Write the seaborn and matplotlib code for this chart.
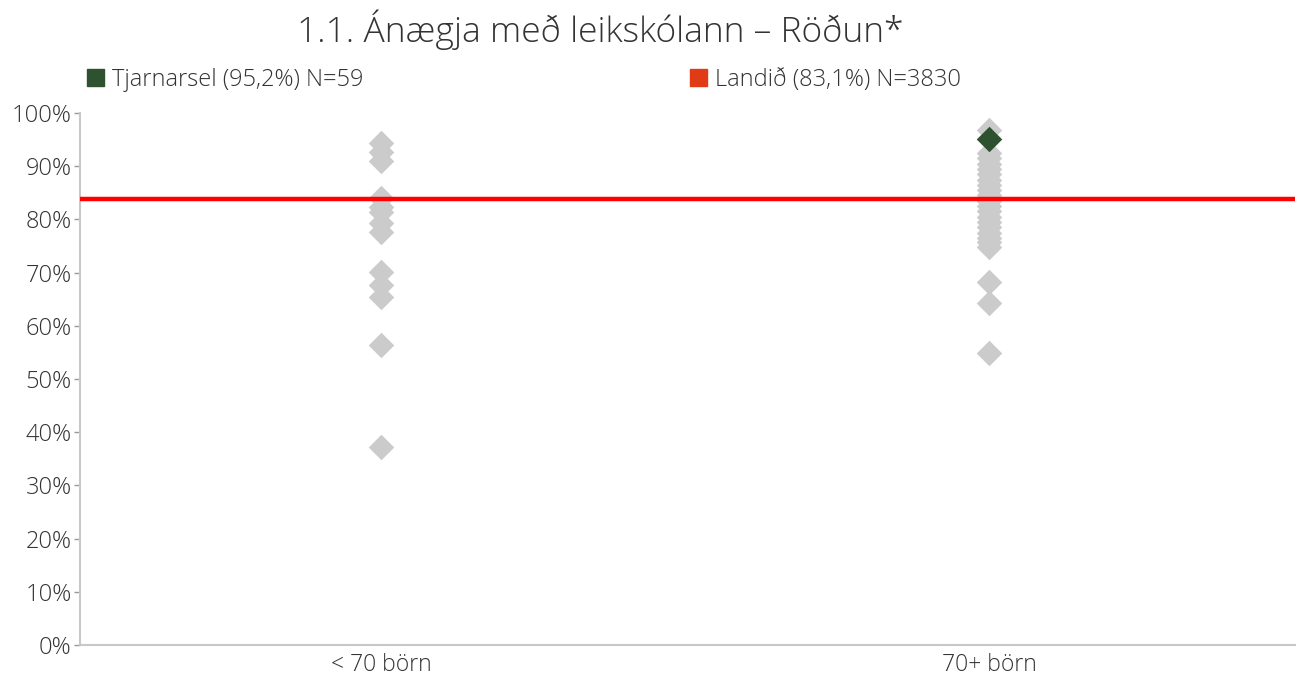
import pandas as pd
import matplotlib.pyplot as plt
import seaborn as sns
from matplotlib.patches import Patch

# -----------------------------------------------------------
# Data
# -----------------------------------------------------------
categories = ['< 70 börn', '70+ börn']

small_values = [94.4, 92.7, 91.0, 84.0, 82.3, 81.4, 79.3, 77.6,
                70.1, 67.7, 65.4, 56.4, 37.2]
large_values = [96.8, 92.5, 91.5, 90.5, 89.5, 88.5, 87.5, 86.5, 85.5,
                84.5, 83.5, 82.5, 81.5, 80.5, 79.5, 78.5, 77.5, 76.5,
                75.8, 74.8, 68.2, 64.3, 54.9]

school_name = 'Tjarnarsel'
school_category = '70+ börn'
school_value = 95.2
school_n = 59

national_label = 'Landið'
national_value = 83.1
national_line = 83.8
national_n = 3830

yticks = list(range(0, 101, 10))

df = pd.DataFrame({
    'group': [categories[0]] * len(small_values) + [categories[1]] * len(large_values),
    'value': small_values + large_values,
})
school_df = pd.DataFrame({'group': [school_category], 'value': [school_value]})

# -----------------------------------------------------------
# Plot
# -----------------------------------------------------------
sns.set_style('white')
plt.rcParams['font.family'] = ['Open Sans', 'DejaVu Sans']
plt.rcParams['font.weight'] = 'light'

text_col = '#333333'
gray = '#CBCBCB'
green = '#2E5130'
orange = '#E03A16'

fig = plt.figure(figsize=(13.04, 6.78), dpi=100)
ax = fig.add_axes([80 / 1304, 1 - 645 / 678, 1215 / 1304, 532 / 678])

sns.stripplot(data=df, x='group', y='value', order=categories, jitter=False,
              marker='D', size=13, color=gray, linewidth=0, ax=ax, zorder=2)
sns.stripplot(data=school_df, x='group', y='value', order=categories, jitter=False,
              marker='D', size=13, color=green, linewidth=0, ax=ax, zorder=4)

ax.axhline(national_line, color='#FF0000', lw=3.2, zorder=3)

ax.set_xlim(-0.495, 1.503)
ax.set_ylim(0, 100)
ax.set_yticks(yticks)
ax.set_yticklabels([f'{t}%' for t in yticks])
ax.set_xlabel('')
ax.set_ylabel('')

for s in ['top', 'right']:
    ax.spines[s].set_visible(False)
for s in ['left', 'bottom']:
    ax.spines[s].set_color('#C8C8C8')
    ax.spines[s].set_linewidth(1.5)

ax.tick_params(axis='y', left=True, length=4, width=1, color='#999999',
               labelsize=17, labelcolor=text_col, pad=2)
ax.tick_params(axis='x', bottom=False, labelsize=16.5, labelcolor=text_col, pad=2)

fig.text(600 / 1304, 1 - 30 / 678, '1.1. Ánægja með leikskólann – Röðun*',
         ha='center', va='center', fontsize=25.5, color=text_col)

# Legend-like header
fig.legend(handles=[Patch(color=green, label=f'{school_name} ({school_value:.1f}%) N={school_n}'.replace('.', ','))],
           loc='center left', bbox_to_anchor=(66 / 1304, 1 - 80 / 678), frameon=False,
           fontsize=17, handlelength=0.7, handleheight=0.7, handletextpad=0.35,
           labelcolor=text_col)
fig.legend(handles=[Patch(color=orange, label=f'{national_label} ({national_value:.1f}%) N={national_n}'.replace('.', ','))],
           loc='center left', bbox_to_anchor=(669 / 1304, 1 - 80 / 678), frameon=False,
           fontsize=17, handlelength=0.7, handleheight=0.7, handletextpad=0.35,
           labelcolor=text_col)

plt.savefig('out.png', dpi=100)
